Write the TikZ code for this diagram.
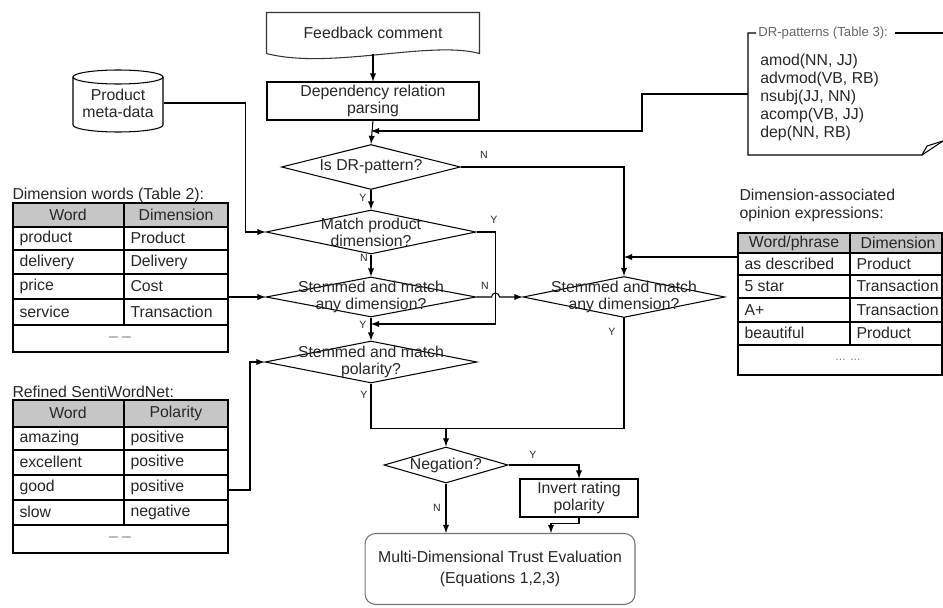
\documentclass[tikz,border=0pt]{standalone}
\usepackage{fontspec}
\setmainfont{Liberation Sans}
\usetikzlibrary{shapes.geometric}
\usetikzlibrary{calc}

\begin{document}
\begin{tikzpicture}[x=0.02cm,y=-0.02cm,>=latex,line width=0.6pt,
    every node/.style={font=\fontsize{9}{9.6}\selectfont,text=black!85,align=center},
    process/.style={draw,rectangle,inner sep=1pt},
    decision/.style={draw,diamond,inner sep=0pt},
    yn/.style={font=\fontsize{6}{7}\selectfont,inner sep=0pt},
    cell/.style={anchor=west,inner sep=0pt}]
    \useasboundingbox (0,0) rectangle (943,608);

    % feedback comment (document shape)
    \node[minimum width=4.24cm,minimum height=0.8cm] (fb) at (373,33) {Feedback comment};
    \draw[black!80] (fb.south west) -- (fb.north west) -- (fb.north east) -- (fb.south east)
        .. controls (430,40) and (330,70) .. (fb.south west);
    \node[process,minimum width=4.24cm,minimum height=0.76cm] (dep) at (373,101) {Dependency relation\\parsing};

    % decisions
    \node[decision,minimum width=3.58cm,minimum height=0.9cm] (isdr) at (371,167) {};
    \node at (isdr) {Is DR-pattern?};
    \node[decision,minimum width=4.2cm,minimum height=0.88cm] (match) at (371,232) {};
    \node at (match) {Match product\\dimension?};
    \node[decision,minimum width=4.2cm,minimum height=0.8cm] (stem1) at (371,297) {};
    \node at (stem1) {Stemmed and match\\any dimension?};
    \node[decision,minimum width=4.04cm,minimum height=0.82cm] (stem2) at (624,297) {};
    \node at (stem2) {Stemmed and match\\any dimension?};
    \node[decision,minimum width=4.24cm,minimum height=0.84cm] (pol) at (371,362) {};
    \node at (pol) {Stemmed and match\\polarity?};
    \node[decision,minimum width=2.48cm,minimum height=0.72cm] (neg) at (446,465) {};
    \node at (neg) {Negation?};

    % actions
    \node[process,minimum width=2.36cm,minimum height=0.76cm] (inv) at (579,498) {Invert rating\\polarity};
    \node[draw=black!55,rounded corners=6pt,minimum width=5.4cm,minimum height=1.42cm] (fin) at (500,569)
        {Multi-Dimensional Trust Evaluation\\[2pt](Equations 1,2,3)};

    % product meta-data (cylinder)
    \node[minimum width=1.8cm,minimum height=1.24cm] (meta) at (118,103) {Product\\meta-data};
    \draw (73,77) -- (73,125) arc[start angle=180,end angle=360,x radius=0.9cm,y radius=0.14cm] -- (163,77);
    \draw (118,77) ellipse[x radius=0.9cm,y radius=0.14cm];

    % DR-patterns note
    \node[anchor=west,font=\fontsize{7.5}{8}\selectfont,text=black!60,inner sep=1pt] (drt) at (756,33) {DR-patterns (Table 3):};
    \node[anchor=north west,align=left,font=\fontsize{9}{10.2}\selectfont] (drp) at (754,48)
        {amod(NN, JJ)\\advmod(VB, RB)\\nsubj(JJ, NN)\\acomp(VB, JJ)\\dep(NN, RB)};
    \draw (drt.west) -- (748,33) -- (748,155) -- (922,155) -- (943,141);
    \draw (922,155) -- (927,146) -- (943,141);
    \draw ($(drt.east)+(5,0)$) -- (943,33);
    \coordinate (drin) at (748,94);

    % dimension words table
    \node[cell] at (12,195) {Dimension words (Table 2):};
    \fill[gray!45] (13,203) rectangle (228,227);
    \foreach \y in {227,250,274,299} \draw (13,\y) -- (228,\y);
    \draw[line width=1.1pt] (13,325) -- (228,325);
    \draw (13,203) rectangle (228,352);
    \draw (124,203) -- (124,325);
    \node at (68,215) {Word};
    \node at (176,215) {Dimension};
    \foreach \y/\w/\d in {238/product/Product,262/delivery/Delivery,286/price/Cost,312/service/Transaction}{
        \node[cell] at (19,\y) {\w};
        \node[cell] at (130,\y) {\d};
    }
    \node[text=black!50] at (120,339) {-- --};
    \coordinate (dw) at (228,297);

    % refined sentiwordnet table
    \node[cell] at (12,392) {Refined SentiWordNet:};
    \fill[gray!45] (13,400) rectangle (228,427);
    \foreach \y in {427,450,500} \draw (13,\y) -- (228,\y);
    \draw[line width=1.1pt] (13,475) -- (228,475);
    \draw[line width=1.1pt] (13,525) -- (228,525);
    \draw (13,400) rectangle (228,553);
    \draw (124,400) -- (124,525);
    \node at (68,413) {Word};
    \node at (176,413) {Polarity};
    \foreach \y/\w/\d in {438/amazing/positive,462/excellent/positive,487/good/positive,512/slow/negative}{
        \node[cell] at (19,\y) {\w};
        \node[cell] at (130,\y) {\d};
    }
    \node[text=black!50] at (120,539) {-- --};
    \coordinate (sw) at (228,490);

    % opinion expressions table
    \node[anchor=north west,align=left,font=\fontsize{9}{10.2}\selectfont,inner sep=0pt] at (739,189)
        {Dimension-associated\\opinion expressions:};
    \fill[gray!45] (738,233) rectangle (942,253);
    \foreach \y in {253,275,298,322} \draw (738,\y) -- (942,\y);
    \draw[line width=1.1pt] (738,345) -- (942,345);
    \draw (738,233) rectangle (942,375);
    \draw (850,233) -- (850,345);
    \node at (794,243) {Word/phrase};
    \node at (898,243) {Dimension};
    \foreach \y/\w/\d in {264/as described/Product,286/5 star/Transaction,310/A+/Transaction,333/beautiful/Product}{
        \node[cell] at (744,\y) {\w};
        \node[cell] at (856,\y) {\d};
    }
    \node[text=black!50,font=\fontsize{7}{8}\selectfont] at (848,360) {... ...};
    \coordinate (ot) at (738,257);

    % connectors
    \coordinate (j1) at (371,131);
    \coordinate (j2) at (371,324);
    \coordinate (j3) at ($(neg.north)+(0,-18)$);
    \draw[->] (fb.south) -- (dep.north);
    \draw[->] (dep.south) -- (isdr.north);
    \draw[->] (drin) -- ++(-106,0) |- (j1);
    \draw[->] (isdr.east) -| (stem2.north);
    \draw[->] (ot) -- (ot -| stem2.north);
    \draw[->] (isdr.south) -- (match.north);
    \draw[->] (meta.east) -- ++(82,0) |- (match.west);
    \draw[->] (match.east) -- ++(19,0) |- (j2);
    \draw[->] (match.south) -- (stem1.north);
    \draw[->] (stem1.east) -- ++(15,0) arc[start angle=180,end angle=0,radius=0.08cm] -- (stem2.west);
    \draw[->] (dw) -- (stem1.west);
    \draw[->] (stem1.south) -- (pol.north);
    \draw[->] (sw) -- ++(22,0) |- (pol.west);
    \draw (pol.south) |- (j3);
    \draw (stem2.south) |- (j3);
    \draw[->] (j3) -- (neg.north);
    \draw[->] (neg.east) -| (inv.north);
    \draw[->] (neg.south) -- (neg.south |- fin.north);
    \draw[->] (inv.south) -- ++(0,6) -| ($(fin.north)+(51,0)$);

    % yes / no labels
    \node[yn] at (484,155) {N};
    \node[yn] at (363,198) {Y};
    \node[yn] at (494,220) {Y};
    \node[yn] at (364,258) {N};
    \node[yn] at (485,286) {N};
    \node[yn] at (363,325) {Y};
    \node[yn] at (612,332) {Y};
    \node[yn] at (364,395) {Y};
    \node[yn] at (533,455) {Y};
    \node[yn] at (437,508) {N};
\end{tikzpicture}
\end{document}
